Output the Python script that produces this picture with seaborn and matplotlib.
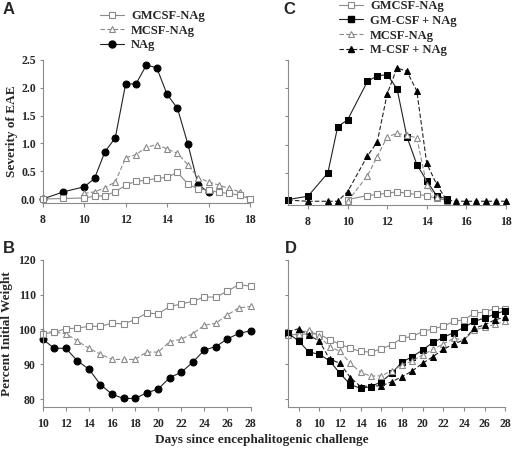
import matplotlib
matplotlib.use("Agg")
import matplotlib.pyplot as plt
import seaborn as sns
from matplotlib.lines import Line2D

# Panel A: severity of EAE
a_sq_days = [8, 9, 10, 10.5, 11, 11.5, 12, 12.5, 13, 13.5, 14, 14.5, 15, 15.5, 16, 16.5, 17, 17.5, 18]
a_gmcsf_nag = [0.0, 0.01, 0.02, 0.05, 0.06, 0.13, 0.25, 0.32, 0.34, 0.37, 0.39, 0.48, 0.27, 0.18, 0.16, 0.12, 0.1, 0.07, 0.0]
a_tri_days = [10, 10.5, 11, 11.5, 12, 12.5, 13, 13.5, 14, 14.5, 15, 15.5, 16, 16.5, 17, 17.5, 18]
a_mcsf_nag = [0.1, 0.13, 0.2, 0.31, 0.74, 0.8, 0.93, 0.98, 0.9, 0.82, 0.62, 0.38, 0.31, 0.25, 0.19, 0.13, 0.0]
a_circ_days = [8, 9, 10, 10.5, 11, 11.5, 12, 12.5, 13, 13.5, 14, 14.5, 15, 15.5, 16]
a_nag = [0.0, 0.13, 0.22, 0.37, 0.85, 1.1, 2.07, 2.07, 2.41, 2.36, 1.88, 1.63, 0.99, 0.25, 0.13]

# Panel B: weight
b_days = list(range(10, 29))
b_gmcsf_nag = [98.7, 99.2, 100.2, 100.4, 100.9, 100.9, 101.8, 101.6, 102.8, 104.7, 104.5,
               106.6, 107.3, 108.1, 109.3, 109.3, 111.0, 112.9, 112.4]
b_mcsf_nag = [99.4, 99.2, 98.8, 96.7, 94.6, 92.9, 91.4, 91.4, 91.4, 93.5, 93.5,
              96.5, 97.2, 98.8, 101.2, 101.8, 104.2, 106.2, 106.6]
b_nag = [97.2, 94.6, 94.6, 91.0, 88.6, 84.2, 81.4, 80.2, 80.2, 81.8, 82.9,
         86.2, 87.7, 90.6, 94.1, 95.1, 97.3, 98.9, 99.6]

# Panel C: severity of EAE
c_open_days = [10, 11, 11.5, 12, 12.5, 13, 13.5, 14, 14.5, 15]
c_gmcsf_nag = [0.03, 0.1, 0.12, 0.14, 0.17, 0.14, 0.12, 0.1, 0.05, 0.02]
c_mcsf_nag = [0.0, 0.45, 0.79, 1.14, 1.2, 1.17, 1.12, 0.29, 0.07, 0.01]
c_gm_days = [7, 8, 9, 9.5, 10, 11, 11.5, 12, 12.5, 13, 13.5, 14, 14.5, 15]
c_gm_plus_nag = [0.03, 0.09, 0.5, 1.32, 1.44, 2.12, 2.22, 2.24, 1.99, 1.14, 0.65, 0.36, 0.1, 0.04]
c_m_days = [7, 8, 9, 9.5, 10, 11, 11.5, 12, 12.5, 13, 13.5, 14, 14.5, 15,
            15.5, 16, 16.5, 17, 17.5, 18]
c_m_plus_nag = [0.02, 0.0, 0.0, 0.0, 0.17, 0.8, 1.05, 1.9, 2.36, 2.3, 1.95, 0.67, 0.3, 0.02,
                0.0, 0.0, 0.0, 0.0, 0.0, 0.0]

# Panel D: weight
d_days = list(range(7, 29))
d_gmcsf_nag = [98.5, 98.5, 98.8, 98.7, 97.0, 95.8, 94.6, 93.7, 93.5, 94.4, 95.6,
               97.5, 98.0, 99.4, 100.2, 100.9, 102.3, 102.8, 104.7, 105.0, 106.0, 106.0]
d_gm_plus_nag = [98.9, 96.7, 93.5, 92.9, 91.0, 87.4, 84.2, 83.1, 83.6, 85.0, 87.4,
                 90.6, 92.2, 94.1, 96.3, 97.7, 99.1, 100.6, 102.3, 103.3, 104.4, 105.4]
d_mcsf_nag = [98.5, 98.8, 99.9, 98.0, 95.1, 93.7, 90.3, 87.7, 86.6, 86.7, 88.1,
              89.8, 91.0, 92.7, 94.3, 95.8, 97.5, 97.0, 99.9, 100.6, 101.5, 102.3]
d_m_plus_nag = [99.4, 100.2, 98.3, 96.7, 91.5, 90.3, 86.2, 83.6, 83.8, 83.8, 85.0,
                86.4, 88.1, 90.3, 92.2, 94.3, 95.8, 97.0, 100.4, 101.3, 102.8, 103.5]

sns.set_style("ticks")
plt.rcParams['font.family'] = ['Liberation Serif', 'DejaVu Serif']
plt.rcParams['font.weight'] = 'bold'

GRAY = '#8a8a8a'
DARK = '#222222'

styles = {
    'GMCSF-NAg': dict(marker='s', color=GRAY, linestyle='-', markerfacecolor='white',
                      markeredgecolor=GRAY, markersize=4.3, markeredgewidth=0.8),
    'MCSF-NAg': dict(marker='^', color=GRAY, linestyle=(0, (4, 2)), markerfacecolor='white',
                     markeredgecolor=GRAY, markersize=5, markeredgewidth=0.8),
    'NAg': dict(marker='o', color=DARK, linestyle='-', markerfacecolor='black',
                markeredgecolor='black', markersize=5),
    'GM-CSF + NAg': dict(marker='s', color=DARK, linestyle='-', markerfacecolor='black',
                         markeredgecolor='black', markersize=4.5),
    'M-CSF + NAg': dict(marker='^', color=DARK, linestyle=(0, (4, 2)), markerfacecolor='black',
                        markeredgecolor='black', markersize=5),
}


def draw(ax, x, y, name):
    sns.lineplot(x=x, y=y, ax=ax, lw=0.8, clip_on=False, legend=False, **styles[name])


def style_axes(ax, xlim, xticks, ylim, yticks, show_ylabels):
    ax.set_xlim(*xlim)
    ax.set_ylim(*ylim)
    ax.set_xticks(xticks)
    ax.set_yticks(yticks)
    for s in ['top', 'right']:
        ax.spines[s].set_visible(False)
    for s in ['left', 'bottom']:
        ax.spines[s].set_color(GRAY)
        ax.spines[s].set_linewidth(0.8)
    ax.tick_params(axis='x', length=3, width=0.8, color=GRAY, labelsize=8.5, pad=5)
    ax.tick_params(axis='y', length=2, width=0.8, color=GRAY, labelsize=8.5, pad=3)
    if not show_ylabels:
        ax.set_yticklabels([])
    ax.set_xlabel('')
    ax.set_ylabel('')


fig = plt.figure(figsize=(5.12, 4.51), dpi=100)
axA = fig.add_axes([0.0834, 0.550, 0.405, 0.317])
axC = fig.add_axes([0.563, 0.545, 0.425, 0.322])
axB = fig.add_axes([0.0834, 0.098, 0.406, 0.326])
axD = fig.add_axes([0.563, 0.098, 0.424, 0.326])

# A
draw(axA, a_circ_days, a_nag, 'NAg')
draw(axA, a_tri_days, a_mcsf_nag, 'MCSF-NAg')
draw(axA, a_sq_days, a_gmcsf_nag, 'GMCSF-NAg')
style_axes(axA, (8, 18), [8, 10, 12, 14, 16, 18], (-0.07, 2.5),
           [0.0, 0.5, 1.0, 1.5, 2.0, 2.5], True)
axA.set_yticklabels(['0.0', '0.5', '1.0', '1.5', '2.0', '2.5'])
axA.set_ylabel('Severity of EAE', fontsize=9.5, fontweight='bold')
axA.yaxis.set_label_coords(-0.12, 0.5)

# B
draw(axB, b_days, b_nag, 'NAg')
draw(axB, b_days, b_mcsf_nag, 'MCSF-NAg')
draw(axB, b_days, b_gmcsf_nag, 'GMCSF-NAg')
style_axes(axB, (10, 28), list(range(10, 29, 2)), (77.8, 120), [80, 90, 100, 110, 120], True)
axB.set_ylabel('Percent Initial Weight', fontsize=9.5, fontweight='bold')
axB.yaxis.set_label_coords(-0.143, 0.5)

# C
draw(axC, c_open_days, c_gmcsf_nag, 'GMCSF-NAg')
draw(axC, c_gm_days, c_gm_plus_nag, 'GM-CSF + NAg')
draw(axC, c_open_days, c_mcsf_nag, 'MCSF-NAg')
draw(axC, c_m_days, c_m_plus_nag, 'M-CSF + NAg')
style_axes(axC, (7, 18), [8, 10, 12, 14, 16, 18], (-0.07, 2.5),
           [0.0, 0.5, 1.0, 1.5, 2.0, 2.5], False)

# D
draw(axD, d_days, d_gmcsf_nag, 'GMCSF-NAg')
draw(axD, d_days, d_gm_plus_nag, 'GM-CSF + NAg')
draw(axD, d_days, d_mcsf_nag, 'MCSF-NAg')
draw(axD, d_days, d_m_plus_nag, 'M-CSF + NAg')
style_axes(axD, (7, 28), list(range(8, 29, 2)), (77.8, 120), [80, 90, 100, 110, 120], False)


def legend(ax, names, anchor):
    handles = [Line2D([], [], lw=0.8, **styles[n]) for n in names]
    ax.legend(handles, names, loc='upper left', bbox_to_anchor=anchor,
              bbox_transform=fig.transFigure, frameon=False, fontsize=9,
              handlelength=1.9, handletextpad=0.6, labelspacing=0.22,
              borderpad=0, borderaxespad=0)


legend(axA, ['GMCSF-NAg', 'MCSF-NAg', 'NAg'], (0.195, 0.978))
legend(axC, ['GMCSF-NAg', 'GM-CSF + NAg', 'MCSF-NAg', 'M-CSF + NAg'], (0.662, 1.0))

for letter, x, y in [('A', 0.006, 0.995), ('B', 0.006, 0.465), ('C', 0.553, 0.995), ('D', 0.557, 0.465)]:
    fig.text(x, y, letter, fontsize=12, fontweight='bold', family='Liberation Sans',
             va='top', ha='left')

fig.text(0.512, 0.01, 'Days since encephalitogenic challenge', fontsize=9.5,
         fontweight='bold', ha='center', va='bottom')

fig.savefig('out.png', dpi=100)
